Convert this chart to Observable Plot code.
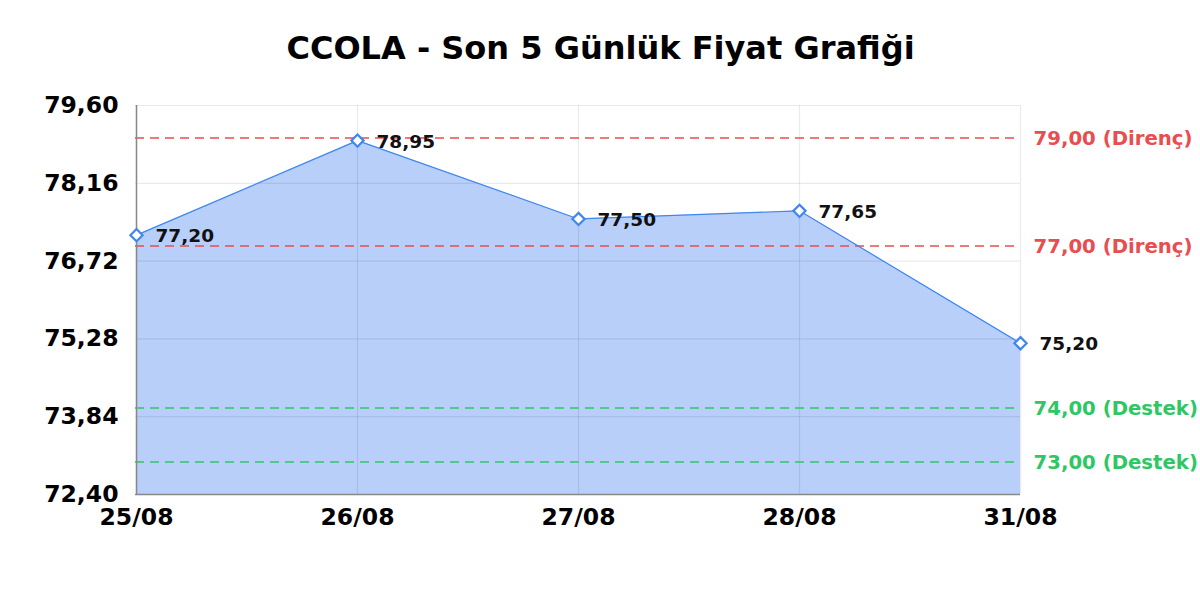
<!DOCTYPE html>
<html><head><meta charset="utf-8">
<script src="https://cdn.jsdelivr.net/npm/d3@7"></script>
<script src="https://cdn.jsdelivr.net/npm/@observablehq/plot@0.6"></script>
<style>body{margin:0;background:#fff} svg{font-family:"DejaVu Sans"}</style>
</head><body><div id="chart"></div>
<script>
const title = "CCOLA - Son 5 Günlük Fiyat Grafiği";
const dates = ["25/08", "26/08", "27/08", "28/08", "31/08"];
const prices = [77.20, 78.95, 77.50, 77.65, 75.20];
const yTicks = [72.40, 73.84, 75.28, 76.72, 78.16, 79.60];
const resistance = [79.00, 77.00];
const support = [74.00, 73.00];
const yDomain = [72.40, 79.60];

const fmt = v => v.toFixed(2).replace(".", ",");
const data = dates.map((d, i) => ({date: d, price: prices[i]}));
const RED = "#e84d50", GREEN = "#2fc765", BLUE = "#3f86ef";

const chart = Plot.plot({
  width: 1200, height: 600,
  marginLeft: 135, marginRight: 180, marginTop: 105, marginBottom: 106,
  style: {fontFamily: "DejaVu Sans", background: "#fff", overflow: "visible"},
  x: {type: "point", domain: dates, padding: 0, label: null},
  y: {domain: yDomain, label: null},
  marks: [
    Plot.areaY(data, {x: "date", y1: yDomain[0], y2: "price", fill: "#b8cff9"}),
    Plot.gridY(yTicks, {stroke: "#000", strokeOpacity: 0.08, strokeWidth: 1.2}),
    Plot.gridX(dates, {stroke: "#000", strokeOpacity: 0.08, strokeWidth: 1.2}),
    Plot.ruleY(resistance, {stroke: RED, strokeWidth: 1.5, strokeDasharray: "9,6"}),
    Plot.ruleY(support, {stroke: GREEN, strokeWidth: 1.5, strokeDasharray: "9,6"}),
    Plot.lineY(data, {x: "date", y: "price", stroke: BLUE, strokeWidth: 1.2}),
    Plot.ruleX([dates[0]], {stroke: "#888", strokeWidth: 1.5}),
    Plot.ruleY([yDomain[0]], {stroke: "#888", strokeWidth: 1.5}),
    Plot.dot(data, {x: "date", y: "price", symbol: "diamond2", r: 5.5, stroke: BLUE, strokeWidth: 2.2, fill: "white"}),
    Plot.text(data, {x: "date", y: "price", text: d => fmt(d.price), dx: 19, dy: 1, textAnchor: "start", fontSize: 18.5, fontWeight: "bold", fill: "#111"}),
    Plot.text(resistance, {y: d => d, frameAnchor: "right", dx: 13, dy: 1, textAnchor: "start", text: d => fmt(d) + " (Direnç)", fill: RED, fontSize: 19.7, fontWeight: "bold"}),
    Plot.text(support, {y: d => d, frameAnchor: "right", dx: 13, dy: 1, textAnchor: "start", text: d => fmt(d) + " (Destek)", fill: GREEN, fontSize: 19.7, fontWeight: "bold"}),
    Plot.axisY(yTicks, {tickSize: 0, tickPadding: 17, tickFormat: fmt, fontSize: 23.5, fontWeight: "bold", fill: "#000", label: null}),
    Plot.axisX(dates, {tickSize: 0, tickPadding: 14, fontSize: 23.5, fontWeight: "bold", fill: "#000", label: null}),
    Plot.text([title], {text: d => d, frameAnchor: "top", lineAnchor: "middle", dx: 22.5, dy: -57, fontSize: 32, fontWeight: "bold", fill: "#000"})
  ]
});
document.getElementById("chart").appendChild(chart);
</script></body></html>
